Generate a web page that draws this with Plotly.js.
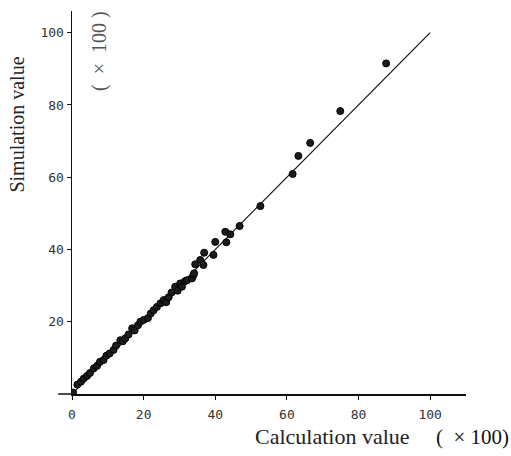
<!DOCTYPE html>
<html><head><meta charset="utf-8">
<script src="https://cdn.plot.ly/plotly-3.0.1.min.js"></script>
<style>body{margin:0;background:#fff}#c{width:511px;height:456px}</style>
</head><body><div id="c"></div>
<script>
// Calculation value (x100)
var calcValues = [0.3,1.5,2.5,3.3,4.2,5.0,6.1,7.0,7.8,8.8,9.6,10.5,11.6,12.3,13.5,14.2,14.9,15.8,16.8,17.5,18.4,19.1,20.0,21.2,22.0,22.8,23.7,24.7,25.6,26.3,27.0,27.8,28.8,29.5,30.2,30.7,31.5,32.1,33.5,33.9,34.1,34.4,35.8,36.7,36.9,39.5,40.0,43.1,42.8,44.2,46.8,52.6,61.6,63.2,66.5,74.9,87.7];
// Simulation value (x100)
var simValues  = [0.4,2.6,3.4,4.3,5.0,5.8,7.1,7.8,8.9,9.4,10.6,11.2,12.2,13.4,14.9,14.6,15.4,16.5,18.2,17.6,19.0,20.0,20.5,21.0,22.3,23.2,24.1,25.1,26.0,25.4,26.8,28.1,29.7,28.6,30.6,29.7,31.2,31.5,32.0,32.9,33.4,35.9,37.1,35.7,39.1,38.5,42.1,42.0,44.9,44.2,46.5,52.0,60.9,65.9,69.5,78.3,91.5];
// reference line y = x
var lineX = [0, 100];
var lineY = [0, 100];
var xTickVals = [0,20,40,60,80,100];
var xTickText = ["0","20","40","60","80","100"];
var yTickVals = [20,40,60,80,100];
var yTickText = ["20","40","60","80","100"];

var traces = [
  {x: lineX, y: lineY, mode: 'lines', line: {color: '#111', width: 1.2}, hoverinfo: 'skip'},
  {x: calcValues, y: simValues, mode: 'markers',
   marker: {size: 7, color: '#1c1c1c', line: {color: '#000', width: 1}}}
];
var tickFont = {family: 'DejaVu Sans Mono', size: 13, color: '#333'};
var layout = {
  width: 511, height: 456,
  margin: {l: 72, r: 45, t: 11, b: 62},
  paper_bgcolor: '#fff', plot_bgcolor: '#fff',
  showlegend: false,
  xaxis: {range: [0, 110], showgrid: false, zeroline: false, showline: true,
          linecolor: '#111', linewidth: 1.5, ticks: 'outside', ticklen: 4, tickcolor: '#111',
          tickvals: xTickVals, ticktext: xTickText, tickfont: tickFont, ticklabelstandoff: 4},
  yaxis: {range: [0, 106], showgrid: false, zeroline: false, showline: true,
          linecolor: '#111', linewidth: 1.5, ticks: 'outside', ticklen: 4, tickcolor: '#111',
          tickvals: yTickVals, ticktext: yTickText, tickfont: tickFont},
  shapes: [
    {type: 'line', xref: 'paper', yref: 'paper', x0: -0.035, x1: 0, y0: 0, y1: 0,
     line: {color: '#111', width: 1.5}}
  ],
  annotations: [
    {text: 'Simulation value', xref: 'paper', yref: 'paper', x: -0.14, y: 0.703,
     textangle: -90, showarrow: false, xanchor: 'center', yanchor: 'middle',
     font: {family: 'Liberation Serif', size: 20, color: '#222'}},
    {text: '(  ×  100 )', xref: 'paper', yref: 'paper', x: 0.068, y: 0.895,
     textangle: -90, showarrow: false, xanchor: 'center', yanchor: 'middle',
     font: {family: 'Liberation Serif', size: 20, color: '#555'}},
    {text: 'Calculation value', xref: 'paper', yref: 'paper', x: 0.46, y: -0.112,
     showarrow: false, xanchor: 'left', yanchor: 'middle',
     font: {family: 'Liberation Serif', size: 22, color: '#222'}},
    {text: '(  × 100)', xref: 'paper', yref: 'paper', x: 1.113, y: -0.112,
     showarrow: false, xanchor: 'right', yanchor: 'middle',
     font: {family: 'Liberation Serif', size: 21, color: '#111'}}
  ]
};
Plotly.newPlot('c', traces, layout, {displayModeBar: false, staticPlot: true});
</script>
</body></html>
